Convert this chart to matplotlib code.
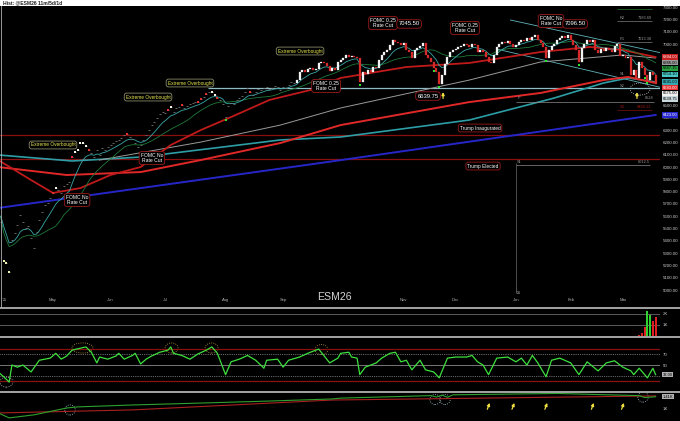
import numpy as np
import pandas as pd
import matplotlib
matplotlib.use('Agg')
import matplotlib.pyplot as plt
from matplotlib.patches import Ellipse, Rectangle
from matplotlib.lines import Line2D
from matplotlib.ticker import FormatStrFormatter
from matplotlib.transforms import blended_transform_factory

plt.rcParams['font.family'] = ['Liberation Sans', 'DejaVu Sans']

# trading days Apr 2 2025 -> Mar 18 2026
holidays = ['2025-04-18', '2025-05-26', '2025-06-19', '2025-07-04', '2025-09-01',
            '2025-11-27', '2025-12-25', '2026-01-01', '2026-01-19', '2026-02-16']
dates = pd.bdate_range('2025-04-02', '2026-03-18', freq='C', holidays=holidays)

# daily closes, month by month
closes = (
    [5610, 5553, 5236, 5220, 5146, 5407, 5463, 5528, 5610, 5553, 5504, 5520, 5423, 5341, 5472, 5569, 5634, 5691, 5707, 5748] +
    [5789, 5829, 5813, 5789, 5846, 5862, 5878, 6081, 6122, 6138, 6195, 6195, 6171, 6138, 6114, 6081, 6138, 6098, 6154, 6138, 6163] +
    [6179, 6195, 6211, 6220, 6236, 6260, 6268, 6244, 6228, 6195, 6163, 6179, 6220, 6260, 6301, 6341, 6366, 6398, 6431, 6447] +
    [6439, 6463, 6488, 6447, 6480, 6488, 6504, 6480, 6496, 6512, 6520, 6528, 6528, 6553, 6569, 6593, 6610, 6610, 6585, 6561, 6545, 6512] +
    [6406, 6496, 6520, 6512, 6545, 6561, 6577, 6610, 6642, 6610, 6585, 6610, 6634, 6626, 6642, 6650, 6634, 6642, 6659, 6650, 6626] +
    [6650, 6642, 6667, 6691, 6683, 6707, 6772, 6789, 6772, 6797, 6805, 6789, 6797, 6846, 6854, 6846, 6821, 6780, 6805, 6789, 6854] +
    [6870, 6886, 6911, 6894, 6902, 6894, 6886, 6691, 6772, 6756, 6789, 6772, 6813, 6805, 6870, 6911, 6935, 6951, 6992, 7033, 7016, 7008, 6992] +
    [7008, 6951, 6935, 6886, 6951, 6967, 6984, 7008, 6911, 6886, 6854, 6805, 6772, 6675, 6748, 6837, 6894, 6935, 6951] +
    [6959, 6976, 6984, 7000, 6992, 6976, 7000, 6992, 6935, 6951, 6935, 6894, 6854, 6846, 6911, 6976, 7000, 7016, 7008, 7024, 7000, 6976] +
    [6992, 7016, 7033, 7024, 7049, 7033, 7057, 7073, 7033, 7008, 6976, 6886, 6951, 6984, 7000, 7033, 7049, 7065, 7049, 7073] +
    [7033, 6992, 6951, 6854, 6967, 7000, 7033, 7016, 7033, 6951, 6927, 6959, 6943, 6967, 6951, 6935, 6984, 7000, 6902] +
    [6911, 6886, 6894, 6748, 6789, 6724, 6854, 6805, 6748, 6707, 6772, 6748, 6675]
)
candle_start = 109

# painted bars in the thin early part of the contract
red_dots = [20, 27, 33, 47, 62, 67, 73, 74, 76, 80, 92]
white_dots = [21, 28, 29, 30, 31, 32, 63, 78, 79]
pale_dots = [2, 3, 4]
green_dots = [0, 83, 132, 159, 161, 200, 212, 236, 237]

# moving averages (bar index, price)
ma50_i = [0, 12, 20, 30, 41, 52, 63, 74, 85, 99, 114, 125, 149, 172, 198, 216, 228, 240]
ma50_p = [6057, 5894, 5789, 5829, 5935, 6000, 6179, 6301, 6406, 6545, 6626, 6724, 6813, 6846, 6935, 6976, 6951, 6894]
ma100_i = [0, 25, 52, 74, 103, 125, 172, 198, 221, 230, 240]
ma100_p = [6000, 5935, 5959, 6057, 6195, 6341, 6528, 6602, 6707, 6732, 6683]
teal_i = [0, 27, 52, 103, 125, 172, 203, 221, 230, 240]
teal_p = [6098, 6049, 6081, 6220, 6244, 6382, 6561, 6683, 6724, 6691]
grey_i = [37, 74, 103, 125, 172, 198, 228, 240]
grey_p = [6057, 6203, 6341, 6480, 6707, 6854, 6911, 6886]
blue_i = [0, 120, 240]
blue_p = [5667, 6040, 6423]

low_level = 6639.75
inaug_level = 6260
elected_level = 6065
chan_up_i, chan_up_p = [187, 249], [7195, 6894]
chan_lo_i, chan_lo_p = [182, 249], [6959, 6610]

# volume (last days only)
vol_i = [234, 235, 236, 237, 238, 239, 240]
vol = [60, 250, 800, 2300, 1900, 1400, 1700]
vol_up = [False, False, False, True, True, False, False]

# RSI
rsi_i = [0, 2, 4, 5, 7, 9, 12, 15, 19, 21, 23, 25, 27, 32, 34, 36, 37, 40, 43, 44,
         46, 49, 50, 52, 54, 56, 59, 62, 63, 64, 67, 70, 73, 76, 78, 80, 83, 85, 88, 91,
         94, 97, 98, 102, 104, 106, 110, 113, 117, 121, 124, 125, 128, 129, 131, 132, 134, 136, 138, 140,
         143, 145, 147, 149, 151, 154, 156, 159, 161, 164, 167, 171, 173, 175, 177, 179, 182, 186, 189, 191,
         193, 195, 197, 200, 202, 205, 209, 212, 215, 219, 222, 225, 228, 231, 232, 234, 237, 239, 240]
rsi_v = [37, 28, 18, 50, 46, 50, 37, 59, 63, 72, 61, 67, 78, 84, 74, 54, 65, 61, 67, 72,
         61, 68, 72, 52, 61, 67, 74, 78, 84, 72, 68, 61, 71, 78, 84, 72, 32, 56, 61, 68,
         59, 44, 59, 61, 46, 59, 65, 72, 80, 54, 63, 72, 74, 65, 63, 32, 46, 50, 54, 63,
         72, 74, 56, 59, 41, 59, 41, 37, 26, 63, 65, 65, 68, 56, 50, 32, 63, 65, 56, 63,
         50, 68, 54, 28, 59, 63, 54, 32, 56, 39, 54, 58, 46, 39, 32, 44, 26, 44, 32]

# bottom breadth panel (K)
br_g_i = [0, 4, 13, 25, 29, 49, 74, 98, 122, 125, 158, 160, 162, 164, 166, 204, 234, 236, 240]
br_g_v = [0.82, 0.64, 0.75, 1.0, 1.04, 1.11, 1.18, 1.25, 1.33, 1.36, 1.45, 1.40, 1.47, 1.39, 1.48, 1.53, 1.45, 1.38, 1.41]
br_r_i = [0, 49, 122, 240]
br_r_v = [0.82, 0.93, 1.29, 1.44]
br_arrows = [179, 188, 200, 217, 228]

x = np.arange(len(closes))
cl = pd.Series(closes, dtype=float)
ema = cl.ewm(span=8, adjust=False).mean()
sma = cl.rolling(20, min_periods=1).mean()

H = 421.0
XL = (0.65, 241.6)


def band(top, bot):
    return [0, 1 - bot / H, 660 / 680, (bot - top) / H]


fig = plt.figure(figsize=(6.8, 4.21), dpi=100, facecolor='black')
ax = fig.add_axes(band(6, 307))
axv = fig.add_axes(band(308, 336))
axr = fig.add_axes(band(337, 391))
axb = fig.add_axes(band(393, 421))

for a in (ax, axv, axr, axb):
    a.set_facecolor('black')
    a.set_xlim(*XL)
    a.set_xticks([])
    for s in a.spines.values():
        s.set_visible(False)
    a.yaxis.tick_right()
    a.tick_params(axis='y', length=0, pad=2.2, labelsize=3.2, labelcolor='#c8c8c8')

# ---------------- main price panel ----------------
ax.set_ylim(4862, 7309)
# 6700-6900 sit under the value tags, as in the original
ax.set_yticks([v for v in range(5000, 7301, 100) if v not in (6700, 6800, 6900)])
ax.yaxis.set_major_formatter(FormatStrFormatter('%.2f'))

ax.axhline(inaug_level, color='#8a1010', lw=0.9)
ax.axhline(elected_level, color='#8a1010', lw=0.9)
ax.hlines(low_level, 76.6, XL[1], color='#8fbcc4', lw=0.9)
ax.plot(chan_up_i, chan_up_p, color='#5fb3ba', lw=0.6)
ax.plot(chan_lo_i, chan_lo_p, color='#5fb3ba', lw=0.6)

ax.plot(blue_i, blue_p, color='#2626c8', lw=1.4)
ax.plot(teal_i, teal_p, color='#2e9ea6', lw=1.2)
ax.plot(grey_i, grey_p, color='#9a9a9a', lw=0.7)
ax.plot(ma100_i, ma100_p, color='#e02828', lw=1.4)
ax.plot(ma50_i, ma50_p, color='#c01a1a', lw=1.3)
ax.plot(x, sma, color='#1f7a3a', lw=0.6)
ax.plot(x, ema, color='#3aa8a8', lw=0.6)

# pivot levels on the right
ax.hlines(6528, 189, 239.5, color='#8a8a8a', lw=0.5)
ax.text(189.5, 6528 + 15, 'P', color='#9a9a9a', fontsize=2.8, va='bottom')
ax.text(239, 6528 + 15, '6528', color='#9a9a9a', fontsize=2.8, va='bottom', ha='right')
ax.hlines(6012.5, 189, 238, color='#8a8a8a', lw=0.5)
ax.text(189.5, 6012.5 + 15, 'S1', color='#9a9a9a', fontsize=2.8, va='bottom')
ax.text(238, 6012.5 + 15, '6012.5', color='#9a9a9a', fontsize=2.8, va='bottom', ha='right')
for lvl, nm, col in [(7285.125, 'R3', '#2f9a3c'), (7183.6875, 'R2', '#9a9a9a'),
                     (7013.375, 'R1', '#9a9a9a'), (6460.125, 'S3', '#a01818')]:
    ax.hlines(lvl, 226, 238.5, color=col, lw=0.4)
    ax.text(227, lvl + 12, nm, color=col, fontsize=2.8, va='bottom')
    ax.text(238.5, lvl + 12, f'{lvl:g}', color=col, fontsize=2.8, va='bottom', ha='right')
ax.text(227, 6756, 'S1', color='#9a9a9a', fontsize=2.8, va='center')
ax.text(227, 6659, 'S2', color='#9a9a9a', fontsize=2.8, va='center')

ax.vlines(189, 4976, 6030, color='#6a6a6a', lw=0.5)

# early thin bars as dashes, later as candles
ax.scatter(x[:candle_start], closes[:candle_start], marker='_', s=2, c='#767676', linewidths=0.6, zorder=4)
for idx, col in [(red_dots, '#e03030'), (white_dots, '#f4f4e4'), (pale_dots, '#f0f0b0')]:
    ax.scatter(idx, [closes[k] for k in idx], marker='s', s=2.5, c=col, linewidths=0, zorder=5)

o = np.array([closes[k - 1] for k in x[candle_start:]], dtype=float)
c = np.array(closes[candle_start:], dtype=float)
up = c >= o
bottoms = np.minimum(o, c)
heights = np.maximum(np.abs(c - o), 7)
cols = np.where(up, '#f2f2f2', '#d42a2a')
ax.bar(x[candle_start:], heights, bottom=bottoms, width=0.72, color=cols, edgecolor=cols, lw=0.2, zorder=5)

gy = [min(closes[k], closes[k - 1] if k > 0 else closes[k]) - 25 for k in green_dots]
ax.scatter(green_dots, gy, marker='s', s=2.5, c='#30e030', linewidths=0, zorder=6)

arrow = dict(arrowstyle='-|>', color='#f0e040', lw=0.9, mutation_scale=4)
ax.annotate('', xy=(162.4, low_level - 8), xytext=(162.4, 6535), arrowprops=arrow, zorder=7)
ax.annotate('', xy=(233.2, low_level - 8), xytext=(233.2, 6535), arrowprops=arrow, zorder=7)
ax.add_patch(Ellipse((234.3, 6634), 7.3, 98, fill=False, ls=':', ec='#d0d0d0', lw=0.6, zorder=7))


def note(i, p, s, col='white', ec='#9a1a1a', fs=3.6):
    ax.text(i, p, s, color=col, fontsize=fs, ha='center', va='center', linespacing=1.0, zorder=8,
            bbox=dict(boxstyle='round,pad=0.3,rounding_size=0.5', fc='black', ec=ec, lw=0.6))


for i, p in [(20, 6179), (54.7, 6569), (70, 6683), (110.2, 6943)]:
    note(i, p, 'Extreme Overbought', col='#e8e850', ec='#8a8a6a', fs=3.4)
note(28.8, 5732, 'FOMC No\nRate Cut')
note(56.1, 6073, 'FOMC No\nRate Cut')
note(119.7, 6659, 'FOMC 0.25\nRate Cut')
note(140.5, 7171, 'FOMC 0.25\nRate Cut')
note(150, 7163, '7045.50', fs=4.2)
note(170.4, 7130, 'FOMC 0.25\nRate Cut')
note(201.8, 7187, 'FOMC No\nRate Cut')
note(210.6, 7163, '7096.50', fs=4.2)
note(156.9, 6577, '6639.75', fs=4.2)
note(175.9, 6317, 'Trump Inaugurated', fs=3.4)
note(177, 6008, 'Trump Elected', fs=3.4)

# month labels along the bottom of the price panel
bt = blended_transform_factory(ax.transData, ax.transAxes)
firsts = [k for k in range(1, len(dates)) if dates[k].month != dates[k - 1].month]
ax.text(XL[0] + 0.6, 0.023, "'25", color='#b0b0b0', fontsize=3, transform=bt, va='center')
for k in firsts:
    if k >= len(closes) or dates[k].month == 10:
        continue
    ax.text(k, 0.023, dates[k].strftime('%b'), color='#b0b0b0', fontsize=3, ha='center', va='center', transform=bt)
    if dates[k].month == 1:
        ax.text(k, 0.045, "'26", color='#b0b0b0', fontsize=3, ha='left', va='center', transform=bt)
ax.text(122.9, 0.032, 'ESM26', color='#d4d4d4', fontsize=7.6, ha='center', va='center', transform=bt)

# value tags at the right edge, stacked so they do not cover each other
rt = blended_transform_factory(ax.transAxes, ax.transData)
tags = [(ma50_p[-1], '#c82020', 'white'), (sma.iloc[-1], '#28a040', 'black'),
        (ema.iloc[-1], '#48c4c4', 'black'), (grey_p[-1], '#9a9a9a', 'black'),
        (ma100_p[-1], '#e43030', 'white'), (teal_p[-1], '#38a8b0', 'black'),
        (closes[-1], '#f0f0f0', 'black'), (low_level, '#c8d8dc', 'black'),
        (blue_p[-1], '#2828d0', 'white')]
tags.sort(key=lambda t: -t[0])
prev = None
for val, fc, tc in tags:
    pos = val if prev is None else min(val, prev - 46)
    prev = pos
    ax.text(1.004, pos, f'{val:.2f}', transform=rt, fontsize=3, color=tc, va='center', ha='left',
            clip_on=False, zorder=9, bbox=dict(boxstyle='square,pad=0.15', fc=fc, ec='none'))

# ---------------- volume panel ----------------
axv.set_ylim(0, 2545)
axv.axhline(1000, color='#5a5a5a', lw=0.7)
axv.axhline(2000, color='#5a5a5a', lw=0.7)
axv.set_yticks([1000, 2000])
axv.set_yticklabels(['1K', '2K'])
axv.bar(vol_i, vol, width=0.8, color=['#30d030' if u else '#e02020' for u in vol_up], zorder=3)

# ---------------- RSI panel ----------------
axr.set_ylim(1.3, 102.6)
axr.axhline(80, color='#8c1010', lw=0.9)
axr.axhline(20, color='#8c1010', lw=0.9)
axr.axhline(70, color='#c8c8c8', lw=0.5, ls=':')
axr.axhline(30, color='#c8c8c8', lw=0.5, ls=':')
axr.axhline(50, color='#8a8a8a', lw=0.6)
axr.plot(rsi_i, rsi_v, color='#3ee03e', lw=0.9)
axr.set_yticks([50, 70])
for cx, cy, w in [(30.8, 82, 7.7), (63.3, 82, 4.7), (77.9, 82, 4.7), (118, 79, 4.7)]:
    axr.add_patch(Ellipse((cx, cy), w, 19, fill=False, ls=':', ec='#c8a040', lw=0.6))
axr.add_patch(Ellipse((3, 18), 4.7, 19, fill=False, ls=':', ec='#c8c8c8', lw=0.6))
rrt = blended_transform_factory(axr.transAxes, axr.transData)
axr.text(1.004, rsi_v[-1], f'{rsi_v[-1]:.2f}', transform=rrt, fontsize=3, color='black', va='center',
         clip_on=False, bbox=dict(boxstyle='square,pad=0.15', fc='#b0b0b0', ec='none'))

# ---------------- breadth panel ----------------
axb.set_ylim(0.527, 1.546)
axb.plot(br_r_i, br_r_v, color='#a82020', lw=0.8)
axb.plot(br_g_i, br_g_v, color='#2fa02f', lw=0.8)
axb.set_yticks([1.0])
axb.set_yticklabels(['1K'])
for i in br_arrows:
    axb.annotate('', xy=(i + 0.8, 1.28), xytext=(i - 0.8, 0.86), arrowprops=arrow)
for cx, cy in [(26.2, 0.93), (159.5, 1.31), (163.1, 1.31), (235.4, 1.40)]:
    axb.add_patch(Ellipse((cx, cy), 3.8, 0.37, fill=False, ls=':', ec='#a8c8d0', lw=0.6))
brt = blended_transform_factory(axb.transAxes, axb.transData)
axb.text(1.004, br_g_v[-1], f'{br_g_v[-1]:.2f}K', transform=brt, fontsize=3, color='black', va='center',
         clip_on=False, bbox=dict(boxstyle='square,pad=0.15', fc='#b0b0b0', ec='none'))

# frame: title bar, separators
fig.patches.append(Rectangle((0, 1 - 6 / H), 1, 6 / H, transform=fig.transFigure, fc='white', ec='none'))
fig.text(0.004, 1 - 3 / H, 'Hist: @ESM26 11m/5d/1d', fontsize=3.6, color='#202020', va='center', weight='bold')
for yy in (307.5, 336.5, 392):
    fig.add_artist(Line2D([0, 1], [1 - yy / H] * 2, transform=fig.transFigure, color='#d0d0d0', lw=1.1))
fig.add_artist(Line2D([0.0008, 0.0008], [1 - 307 / H, 1 - 6 / H], transform=fig.transFigure, color='#b0b0b0', lw=0.6))

fig.savefig('out.png', dpi=100, facecolor='black')
